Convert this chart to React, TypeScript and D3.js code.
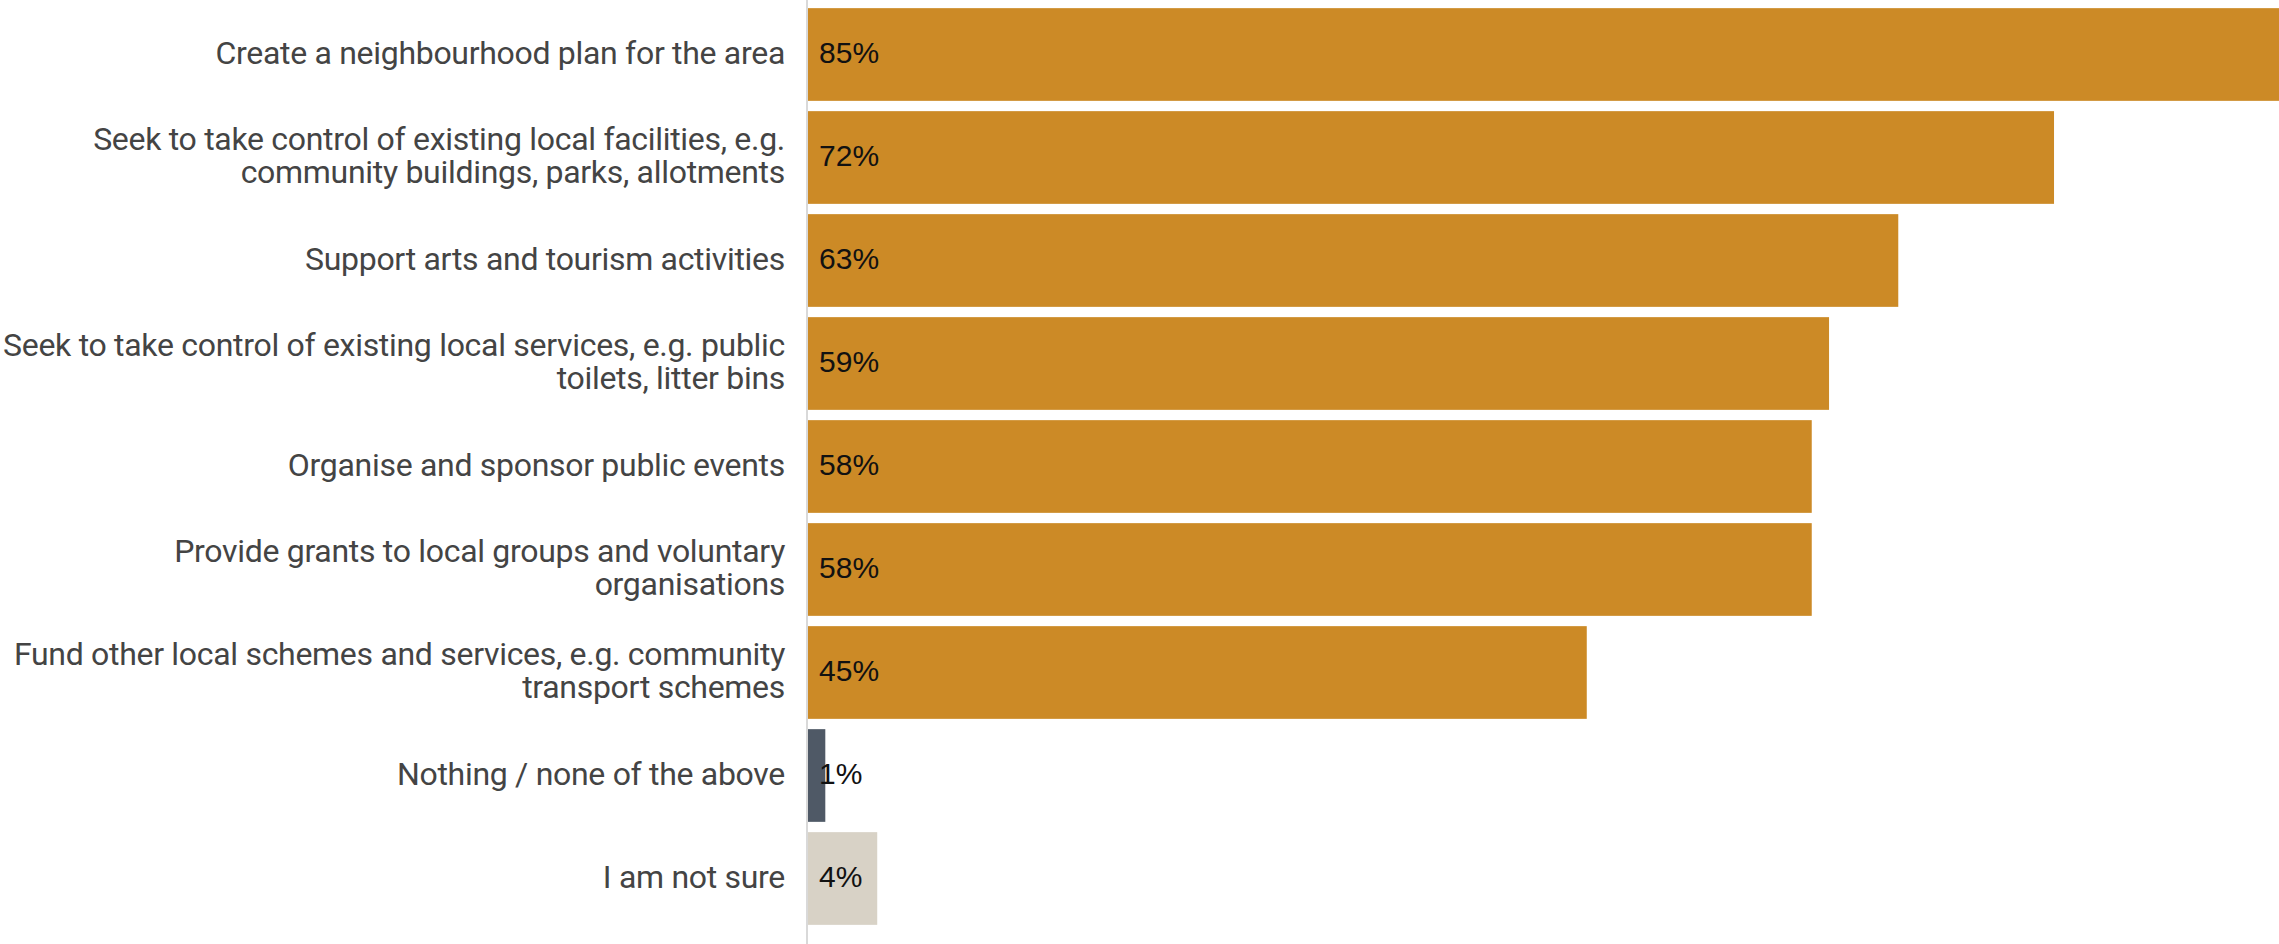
import React, { useEffect } from "react";
import * as d3 from "d3";

const categories: string[][] = [
  ["Create a neighbourhood plan for the area"],
  ["Seek to take control of existing local facilities, e.g.", "community buildings, parks, allotments"],
  ["Support arts and tourism activities"],
  ["Seek to take control of existing local services, e.g. public", "toilets, litter bins"],
  ["Organise and sponsor public events"],
  ["Provide grants to local groups and voluntary", "organisations"],
  ["Fund other local schemes and services, e.g. community", "transport schemes"],
  ["Nothing / none of the above"],
  ["I am not sure"],
];
const values: number[] = [85, 72, 63, 59, 58, 58, 45, 1, 4];
const colors: string[] = ["#CC8A26", "#CC8A26", "#CC8A26", "#CC8A26", "#CC8A26", "#CC8A26", "#CC8A26", "#4F5966", "#D8D2C6"];

const W = 2279;
const H = 944;
const X0 = 808;

export default function App() {
  useEffect(() => {
    document.body.style.margin = "0";
    document.body.style.overflow = "hidden";
  }, []);

  const ids = categories.map((_, i) => String(i));
  const y = d3.scaleBand<string>().domain(ids).range([3, 930]).paddingInner(0.1).paddingOuter(0.05);
  const x = d3.scaleLinear().domain([0, d3.max(values) as number]).range([X0, W]);

  return (
    <svg width={W} height={H} style={{ display: "block", position: "absolute", left: 0, top: 0 }}>
      {values.map((v, i) => {
        const yy = y(ids[i]) as number;
        const bh = y.bandwidth();
        const cy = yy + bh / 2 - 2;
        const lines = categories[i];
        const lh = 33.5;
        return (
          <g key={i}>
            <rect x={x(0)} y={yy} width={x(v) - x(0)} height={bh} fill={colors[i]} />
            <text
              x={x(0) + 11}
              y={cy}
              dy="0.35em"
              fontFamily="'Liberation Sans', Arial, sans-serif"
              fontSize={30}
              fill="#111"
            >
              {v}%
            </text>
            <text
              textAnchor="end"
              fontFamily="Roboto, sans-serif"
              fontSize={32}
              letterSpacing={-0.3}
              fill="#444"
            >
              {lines.map((l, j) => (
                <tspan key={j} x={785} y={cy + (j - (lines.length - 1) / 2) * lh} dy="0.35em">
                  {l}
                </tspan>
              ))}
            </text>
          </g>
        );
      })}
      <line x1={807} x2={807} y1={0} y2={H} stroke="#d9d9d9" strokeWidth={2} />
    </svg>
  );
}
